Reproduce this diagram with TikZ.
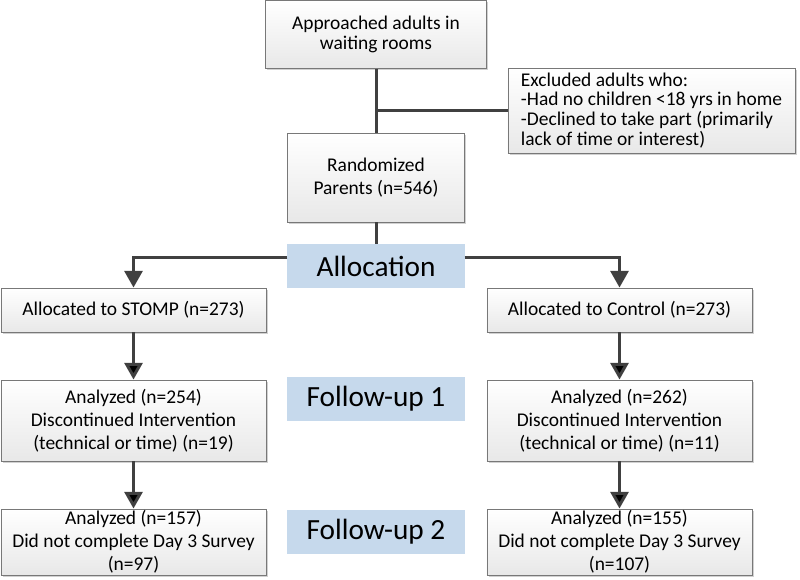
\documentclass[tikz,border=0pt]{standalone}
\usepackage{fontspec}
\setmainfont{Carlito}
\usetikzlibrary{arrows.meta,shadows}

\definecolor{linegray}{RGB}{64,64,64}
\definecolor{boxgray}{RGB}{120,120,120}
\definecolor{phaseblue}{RGB}{198,217,236}

\begin{document}
\begin{tikzpicture}[x=0.03cm,y=-0.03cm,>={Triangle[width=0.54cm,length=0.5cm]},
  main node/.style={rectangle,draw=boxgray,line width=0.8pt,top color=white,bottom color=black!9,
    drop shadow={shadow xshift=1.6pt,shadow yshift=-1.6pt,opacity=0.18,fill=black},
    align=center,inner sep=0pt,minimum width=7.95cm,font=\fontsize{16.6}{19.8}\selectfont},
  phase node/.style={rectangle,fill=phaseblue,minimum width=5.31cm,minimum height=1.32cm,
    inner sep=0pt,font=\fontsize{25}{30}\selectfont},
  connector/.style={draw=linegray,line width=0.09cm}]

  \useasboundingbox (0,0) rectangle (800,580);

  \node[main node,minimum width=6.63cm,minimum height=2.03cm,font=\fontsize{16.6}{17}\selectfont] (1) at (376,34.3) {Approached adults in\\waiting rooms};
  \node[main node,minimum width=8.61cm,minimum height=2.55cm,align=left,font=\fontsize{16.6}{17}\selectfont] (2) at (651.5,110.5) {Excluded adults who:\\-Had no children <18 yrs in home\\-Declined to take part (primarily\\lack of time or interest)};
  \node[main node,minimum width=5.31cm,minimum height=2.67cm] (3) at (376,177.5) {Randomized\\Parents (n=546)};
  \node[phase node] (4) at (376,266) {Allocation};

  \node[main node,minimum height=1.32cm] (5) at (133.5,310) {Allocated to STOMP (n=273)};
  \node[main node,minimum height=1.32cm] (6) at (619.5,310) {Allocated to Control (n=273)};

  \node[phase node] (7) at (376,399) {Follow-up 1};
  \node[main node,minimum height=2.43cm] (8) at (133.5,420.5) {Analyzed (n=254)\\Discontinued Intervention\\(technical or time) (n=19)};
  \node[main node,minimum height=2.43cm] (9) at (619.5,420.5) {Analyzed (n=262)\\Discontinued Intervention\\(technical or time) (n=11)};

  \node[phase node] (10) at (376,531.5) {Follow-up 2};
  \node[main node,minimum height=1.98cm] (11) at (133.5,542) {Analyzed (n=157)\\Did not complete Day 3 Survey\\(n=97)};
  \node[main node,minimum height=1.98cm] (12) at (619.5,542) {Analyzed (n=155)\\Did not complete Day 3 Survey\\(n=107)};

  \coordinate (j) at (1.south |- 2.west);

  \path[connector]
    (1) edge (3)
    (j) edge (2)
    (3) edge (4);

  \draw[connector,->] ([yshift=0.27cm]4.west) -| (5);
  \draw[connector,->] ([yshift=0.27cm]4.east) -| (6);

  \path[connector,->]
    (5) edge (8)
    (8) edge (11)
    (6) edge (9)
    (9) edge (12);

\end{tikzpicture}
\end{document}
